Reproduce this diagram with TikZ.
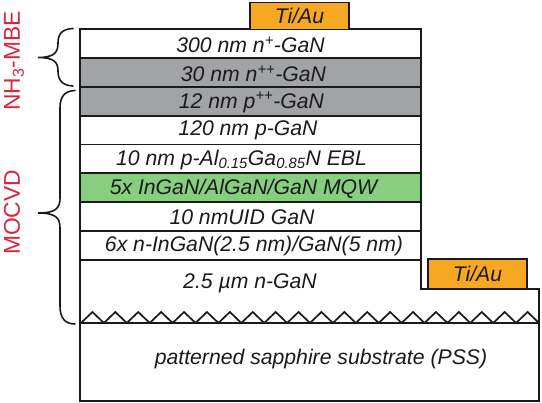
\documentclass[tikz,border=0pt]{standalone}
\usepackage{fontspec}
\setmainfont{Liberation Sans}
\definecolor{metal}{HTML}{F7A823}
\definecolor{dark}{HTML}{A2A3A6}
\definecolor{mqw}{HTML}{86CF7E}
\definecolor{grow}{HTML}{D9243F}
\definecolor{ink}{HTML}{1A1A1A}
\begin{document}
\begin{tikzpicture}[x=1pt,y=-1pt,
  layerbox/.style={draw=ink,line width=1.8pt,anchor=north west,minimum width=341pt,minimum height=29pt,inner sep=0pt,outer sep=0pt},
  contact/.style={draw=ink,line width=1.8pt,fill=metal,anchor=north west,minimum width=99pt,inner sep=0pt,outer sep=0pt},
  txt/.style={font=\fontsize{21.2}{23}\selectfont\itshape,text=ink,inner sep=0pt},
  growth/.style={font=\fontsize{22.8}{24}\selectfont,text=grow,rotate=90,inner sep=0pt},
  brace/.style={draw=ink,line width=1.6pt,line cap=round}]
\useasboundingbox (0,0) rectangle (542,403);
% bottom structure
\draw[ink,line width=1.8pt] (80,260) -- (80,323) -- (539,323) -- (539,289) -- (421,289) -- (421,260);
\draw[ink,line width=1.8pt] (80,323) -- (80,401) -- (539,401) -- (539,323);
% layers
\node[layerbox] (l1) at (80,29) {};
\node[layerbox,fill=dark] (l2) at (80,58) {};
\node[layerbox,fill=dark] (l3) at (80,87) {};
\node[layerbox] (l4) at (80,115.5) {};
\node[layerbox] (l5) at (80,144.5) {};
\node[layerbox,fill=mqw] (l6) at (80,173) {};
\node[layerbox] (l7) at (80,202) {};
\node[layerbox] (l8) at (80,231) {};
% contacts
\node[contact,minimum height=27pt] (c1) at (250,2.5) {};
\node[contact,minimum height=30pt] (c2) at (428,259) {};
% zigzag
\draw[ink,line width=1.7pt,line join=miter]
  (81,323) \foreach \i in {0,...,19} { -- ({81+22.9*\i+11.45},312) -- ({81+22.9*\i+22.9},323) };
% text
\node[txt] (t1) at (250.5,45) {300 nm n\textsuperscript{+}-GaN};
\node[txt] (t2) at (253.5,74) {30 nm n\textsuperscript{++}-GaN};
\node[txt] (t3) at (251.5,102.5) {12 nm p\textsuperscript{++}-GaN};
\node[txt] (t4) at (248,130.5) {120 nm p-GaN};
\node[txt] (t5) at (241.5,160) {10 nm p-Al\textsubscript{0.15}Ga\textsubscript{0.85}N EBL};
\node[txt] (t6) at (243.5,188.5) {5x InGaN/AlGaN/GaN MQW};
\node[txt] (t7) at (242,217.5) {10 nmUID GaN};
\node[txt] (t8) at (254,246.5) {6x n-InGaN(2.5 nm)/GaN(5 nm)};
\node[txt] (t9) at (250,283) {2.5 µm n-GaN};
\node[txt] (t10) at (321,359) {patterned sapphire substrate (PSS)};
\node[txt] at (c1.center) (t11) {Ti/Au};
\node[txt] at (c2.center) (t12) {Ti/Au};
% growth labels
\node[growth] (g1) at (14,61) {NH\textsubscript{3}-MBE};
\node[growth] (g2) at (12,212.5) {MOCVD};
% braces
\coordinate (b1t) at (73,28.5);
\coordinate (b1m) at (38,57.5);
\coordinate (b1b) at (73,86);
\draw[brace] (b1t) .. controls (62,29) and (58,34) .. (58,43)
  .. controls (58,52) and (55,57.5) .. (b1m)
  .. controls (55,57.5) and (58,63) .. (58,71)
  .. controls (58,80) and (62,85.5) .. (b1b);
\coordinate (b2t) at (75,90.5);
\coordinate (b2m) at (38,213);
\coordinate (b2b) at (75,324);
\draw[brace] (b2t) .. controls (65,91) and (60,96) .. (60,108)
  -- (60,198) .. controls (60,208) and (56,213) .. (b2m)
  .. controls (56,213) and (60,218) .. (60,228)
  -- (60,306) .. controls (60,318) and (65,324) .. (b2b);
\end{tikzpicture}
\end{document}
